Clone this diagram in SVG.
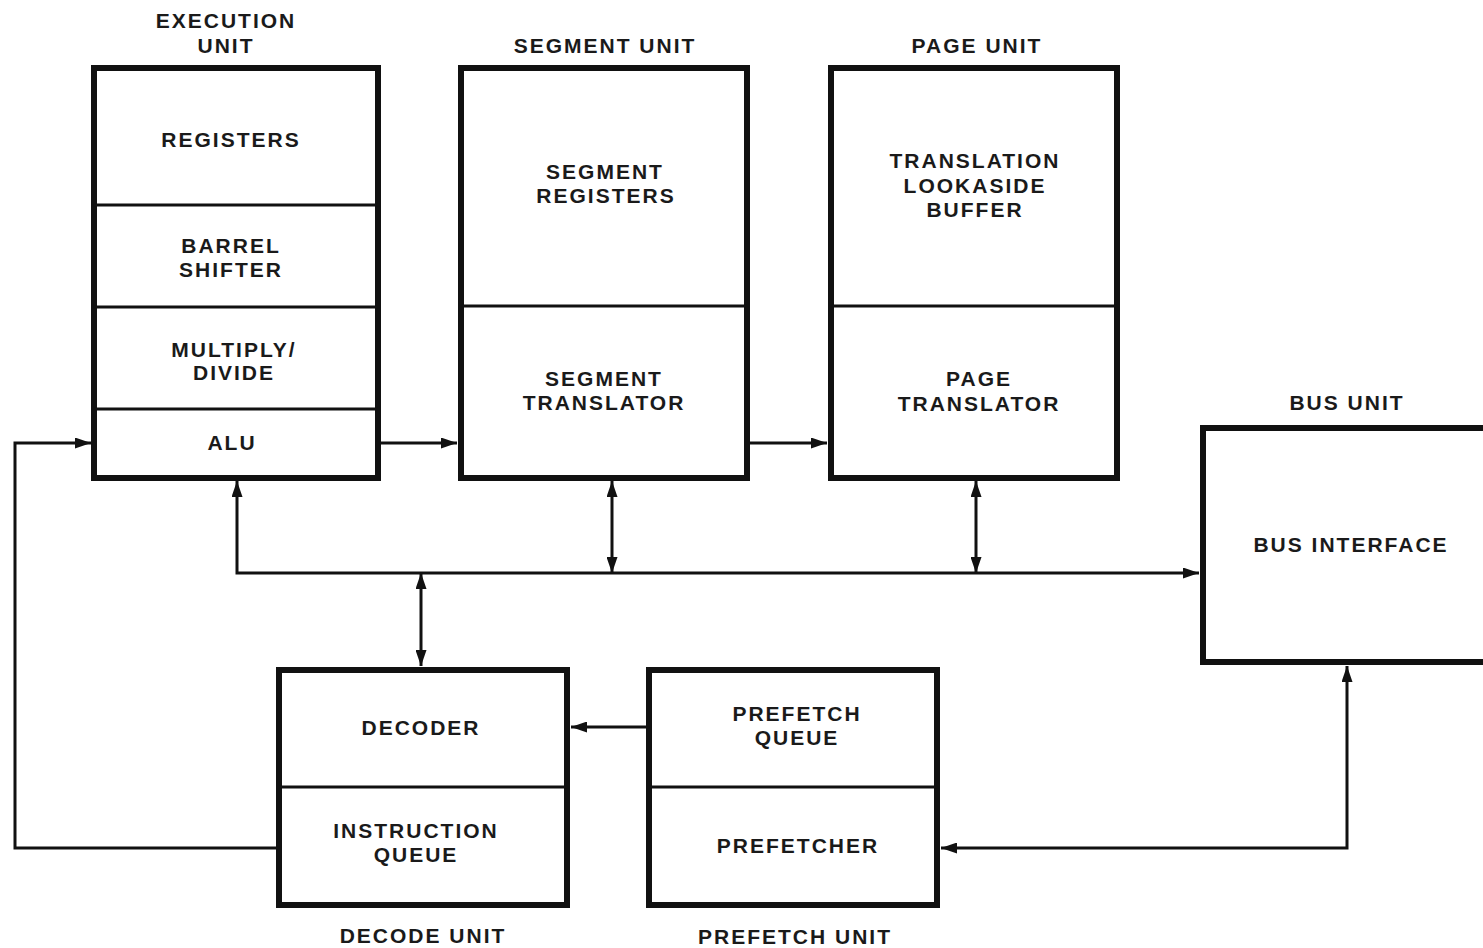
<svg xmlns="http://www.w3.org/2000/svg" width="1483" height="948" viewBox="0 0 1483 948">
<style>
.box{fill:#fff;stroke:#111;stroke-width:6}
.div{stroke:#111;stroke-width:3;fill:none}
.c{stroke:#111;stroke-width:3;fill:none}
text{font-family:"Liberation Sans",Arial,sans-serif;font-weight:bold;font-size:21px;letter-spacing:2px;fill:#1a1a1a;text-anchor:middle}
</style>
<defs>
<marker id="ah" viewBox="0 0 16 11" refX="16" refY="5.5" markerWidth="16" markerHeight="11" markerUnits="userSpaceOnUse" orient="auto-start-reverse">
<path d="M0,0 L16,5.5 L0,11 Z" fill="#111"/>
</marker>
</defs>
<rect width="1483" height="948" fill="#fff"/>
<g id="connectors">
<polyline class="c" points="276,848 15,848 15,443 91,443" marker-end="url(#ah)"/>
<line class="c" x1="381" y1="443" x2="457" y2="443" marker-end="url(#ah)"/>
<line class="c" x1="750" y1="443" x2="827" y2="443" marker-end="url(#ah)"/>
<polyline class="c" points="1199,573 237,573 237,481" marker-start="url(#ah)" marker-end="url(#ah)"/>
<line class="c" x1="612" y1="481" x2="612" y2="573" marker-start="url(#ah)" marker-end="url(#ah)"/>
<line class="c" x1="976" y1="481" x2="976" y2="573" marker-start="url(#ah)" marker-end="url(#ah)"/>
<line class="c" x1="421" y1="573" x2="421" y2="666" marker-start="url(#ah)" marker-end="url(#ah)"/>
<line class="c" x1="646" y1="727" x2="571" y2="727" marker-end="url(#ah)"/>
<polyline class="c" points="1347,666 1347,848 941,848" marker-start="url(#ah)" marker-end="url(#ah)"/>
</g>
<g id="execution-unit">
<rect class="box" x="94" y="68" width="284" height="410"/>
<line class="div" x1="94" y1="205" x2="378" y2="205"/>
<line class="div" x1="94" y1="307" x2="378" y2="307"/>
<line class="div" x1="94" y1="409" x2="378" y2="409"/>
<text x="226" y="28">EXECUTION</text>
<text x="226" y="53">UNIT</text>
<text x="231" y="147">REGISTERS</text>
<text x="231" y="253">BARREL</text>
<text x="231" y="277">SHIFTER</text>
<text x="234" y="357">MULTIPLY/</text>
<text x="234" y="380">DIVIDE</text>
<text x="232" y="450">ALU</text>
</g>
<g id="segment-unit">
<rect class="box" x="461" y="68" width="286" height="410"/>
<line class="div" x1="461" y1="306" x2="747" y2="306"/>
<text x="605" y="53">SEGMENT UNIT</text>
<text x="605" y="179">SEGMENT</text>
<text x="606" y="203">REGISTERS</text>
<text x="604" y="386">SEGMENT</text>
<text x="604" y="410">TRANSLATOR</text>
</g>
<g id="page-unit">
<rect class="box" x="831" y="68" width="286" height="410"/>
<line class="div" x1="831" y1="306" x2="1117" y2="306"/>
<text x="977" y="53">PAGE UNIT</text>
<text x="975" y="168">TRANSLATION</text>
<text x="975" y="193">LOOKASIDE</text>
<text x="975" y="217">BUFFER</text>
<text x="979" y="386">PAGE</text>
<text x="979" y="411">TRANSLATOR</text>
</g>
<g id="bus-unit">
<rect class="box" x="1203" y="428" width="290" height="234"/>
<text x="1347" y="410">BUS UNIT</text>
<text x="1351" y="552">BUS INTERFACE</text>
</g>
<g id="decode-unit">
<rect class="box" x="279" y="670" width="288" height="235"/>
<line class="div" x1="279" y1="787" x2="567" y2="787"/>
<text x="421" y="735">DECODER</text>
<text x="416" y="838">INSTRUCTION</text>
<text x="416" y="862">QUEUE</text>
<text x="423" y="943">DECODE UNIT</text>
</g>
<g id="prefetch-unit">
<rect class="box" x="649" y="670" width="288" height="235"/>
<line class="div" x1="649" y1="787" x2="937" y2="787"/>
<text x="797" y="721">PREFETCH</text>
<text x="797" y="745">QUEUE</text>
<text x="798" y="853">PREFETCHER</text>
<text x="795" y="944">PREFETCH UNIT</text>
</g>
</svg>
